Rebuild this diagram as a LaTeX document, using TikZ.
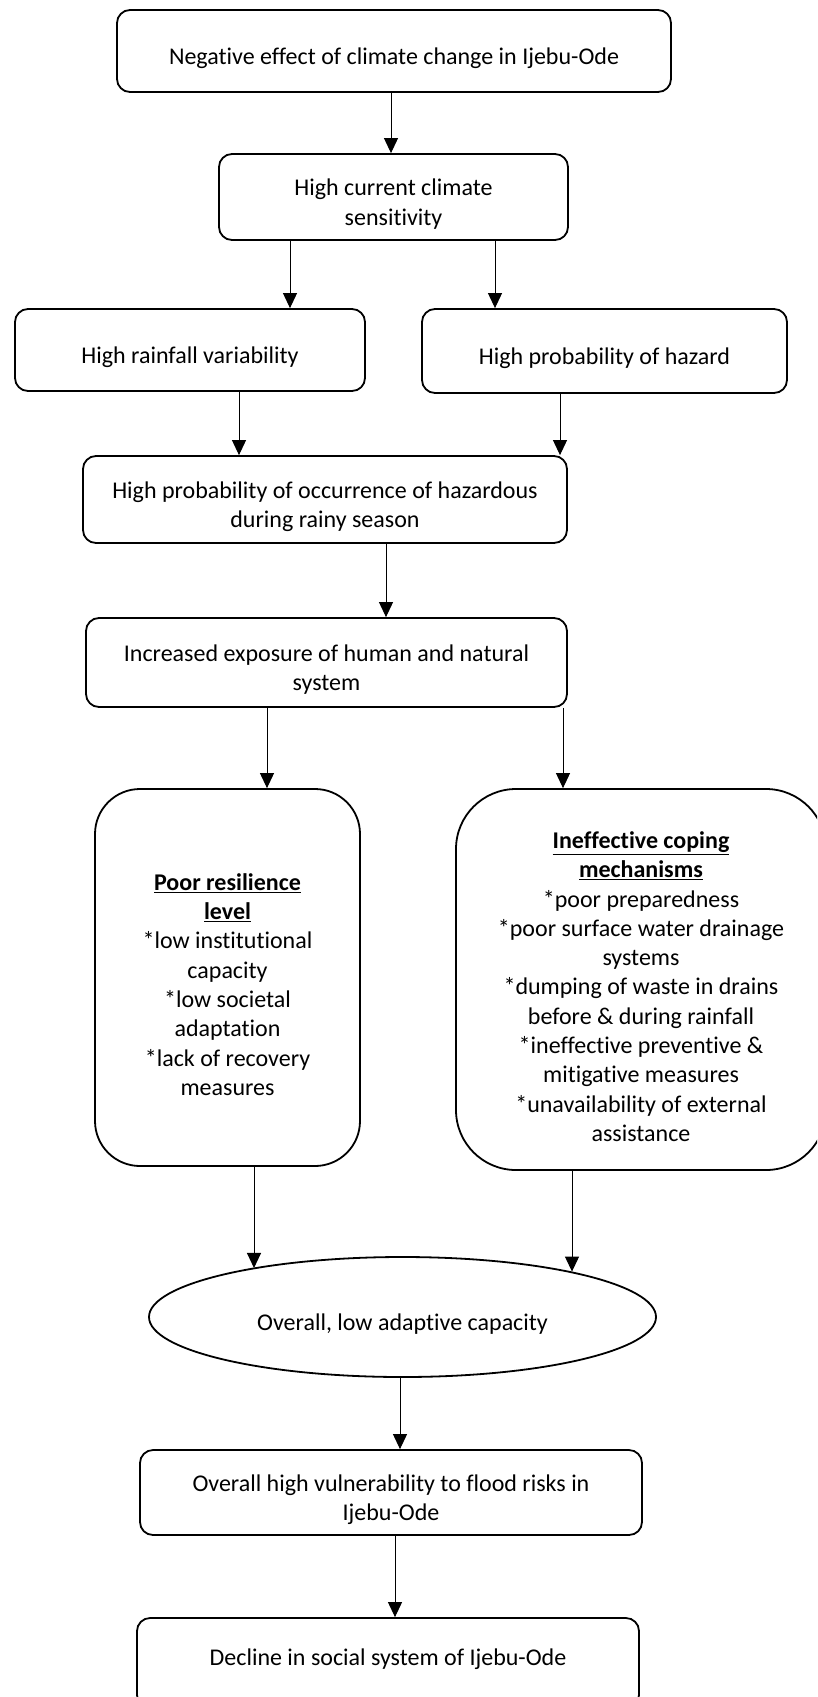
\documentclass[tikz,border=0pt]{standalone}
\usepackage{fontspec}
\setmainfont{Carlito}[Ligatures=NoCommon]
\usepackage{tikz}
\usetikzlibrary{arrows.meta,shapes.geometric}
\newcommand{\boxlift}{\rule{0pt}{31pt}}
\tikzset{every node/.append style={font=\fontsize{24}{29.3}\selectfont}}
\tikzset{
  flowbox/.style={draw,line width=1.8pt,rounded corners=13pt,align=center,inner sep=0pt},
  bigbox/.style={flowbox,rounded corners=#1},
  capell/.style={draw,ellipse,line width=1.8pt,inner sep=0pt,align=center},
  link/.style={-{Triangle[length=15pt,width=14pt]},line width=1pt}
}

\begin{document}
\begin{tikzpicture}[x=1pt,y=-1pt]
  \useasboundingbox (0,0) rectangle (817,1697);
  \clip (0,0) rectangle (817,1697);
  % chain of causes, top to bottom
  \node[flowbox,minimum width=554pt,minimum height=82pt] (neg) at (394,51)
    {\boxlift Negative effect of climate change in Ijebu-Ode};
  \node[flowbox,minimum width=349pt,minimum height=86pt] (sens) at (393.5,197)
    {\boxlift High current climate\\sensitivity};
  \node[flowbox,minimum width=350pt,minimum height=82pt] (rain) at (190,350)
    {\boxlift High rainfall variability};
  \node[flowbox,minimum width=365pt,minimum height=84pt] (haz) at (604.5,351)
    {\boxlift High probability of hazard};
  \node[flowbox,minimum width=484pt,minimum height=87pt] (occur) at (325,499.5)
    {\boxlift High probability of occurrence of hazardous\\during rainy season};
  \node[flowbox,minimum width=481pt,minimum height=89pt] (expo) at (326.5,662.5)
    {\boxlift Increased exposure of human and natural\\system};
  \node[bigbox=45pt,minimum width=265pt,minimum height=377pt] (poor) at (227.5,977.5)
    {\boxlift\underline{\textbf{Poor resilience}}\\\underline{\textbf{level}}\\{*}low institutional\\capacity\\{*}low societal\\adaptation\\{*}lack of recovery\\measures};
  \node[bigbox=60pt,minimum width=370pt,minimum height=381pt] (ineff) at (641,979.5)
    {\boxlift\underline{\textbf{Ineffective coping}}\\\underline{\textbf{mechanisms}}\\{*}poor preparedness\\{*}poor surface water drainage\\systems\\{*}dumping of waste in drains\\before \& during rainfall\\{*}ineffective preventive \&\\mitigative measures\\{*}unavailability of external\\assistance};
  \node[capell,minimum width=507pt,minimum height=120pt] (cap) at (402.5,1317)
    {\boxlift Overall, low adaptive capacity};
  \node[flowbox,minimum width=502pt,minimum height=90pt] (decl) at (388,1663)
    {\rule[-12pt]{0pt}{1pt}Decline in social system of Ijebu-Ode};
  \node[flowbox,minimum width=502pt,minimum height=85pt] (vuln) at (391,1492.5)
    {\boxlift Overall high vulnerability to flood risks in\\Ijebu-Ode};

  \draw[link] (neg.south -| 391,0) -- (sens.north -| 391,0);
  \draw[link] (sens.south -| 290,0) -- (rain.north -| 290,0);
  \draw[link] (sens.south -| 495,0) -- (haz.north -| 495,0);
  \draw[link] (rain.south -| 239,0) -- (occur.north -| 239,0);
  \draw[link] (haz.south -| 560,0) -- (occur.north -| 560,0);
  \draw[link] (occur.south -| 386,0) -- (expo.north -| 386,0);
  \draw[link] (expo.south -| 267,0) -- (poor.north -| 267,0);
  \draw[link] (expo.south -| 563,0) -- (ineff.north -| 563,0);
  \draw[link] (poor.south -| 254,0) -- (254,0 |- cap.162);
  \draw[link] (ineff.south -| 572,0) -- (572,0 |- cap.15);
  \draw[link] (cap.south -| 400,0) -- (vuln.north -| 400,0);
  \draw[link] (vuln.south -| 395,0) -- (decl.north -| 395,0);
\end{tikzpicture}
\end{document}
